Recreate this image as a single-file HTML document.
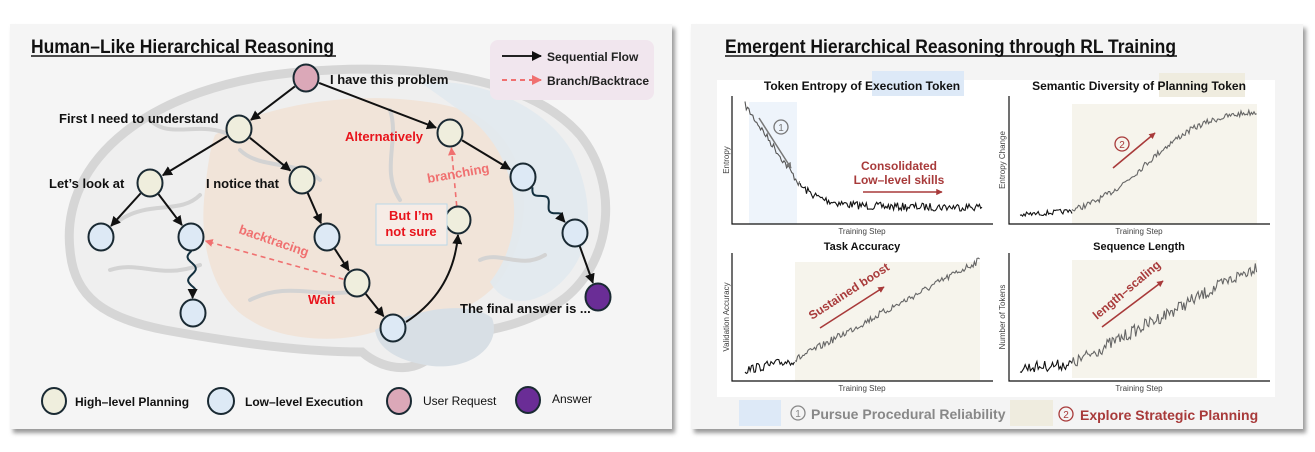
<!DOCTYPE html>
<html><head><meta charset="utf-8">
<style>
html,body{margin:0;padding:0;background:#fff;}
svg{display:block;}
text{font-family:"Liberation Sans Narrow","Liberation Sans",sans-serif;}
.b{font-weight:bold;}
</style></head>
<body>
<svg id="s" width="1315" height="452" viewBox="0 0 1315 452" xmlns="http://www.w3.org/2000/svg">
<defs>
<marker id="ak" viewBox="0 0 10 10" refX="9" refY="5" markerWidth="5" markerHeight="5" orient="auto"><path d="M0,0L10,5L0,10z" fill="#111"/></marker>
<marker id="ar" viewBox="0 0 10 10" refX="9" refY="5" markerWidth="5" markerHeight="5" orient="auto"><path d="M0,0L10,5L0,10z" fill="#f07070"/></marker>
<marker id="ad" viewBox="0 0 10 10" refX="9" refY="5" markerWidth="4" markerHeight="4" orient="auto"><path d="M0,0L10,5L0,10z" fill="#a83a3a"/></marker>
<marker id="ag" viewBox="0 0 10 10" refX="9" refY="5" markerWidth="4" markerHeight="4" orient="auto"><path d="M0,0L10,5L0,10z" fill="#777"/></marker>
<filter id="sh"><feGaussianBlur stdDeviation="2"/></filter>
</defs>
<!-- panels -->
<rect x="13" y="28" width="662" height="405" fill="#999" filter="url(#sh)"/>
<rect x="10" y="24" width="662" height="405" fill="#f5f5f5"/>
<rect x="694" y="28" width="612" height="405" fill="#999" filter="url(#sh)"/>
<rect x="691" y="24" width="612" height="405" fill="#f4f4f4"/>

<!-- brain background -->
<g>
<path d="M70,250 C60,160 150,85 300,72 C420,62 530,78 580,135 C620,185 612,260 565,298 C525,328 485,330 445,338 C425,378 385,372 362,352 C300,352 230,342 165,330 C105,318 74,298 70,250Z" fill="#efefef" stroke="#d6d6d6" stroke-width="9"/>
<path d="M215,135 C280,95 400,88 470,112 C530,142 540,220 500,280 C470,318 420,320 380,330 C340,345 280,340 250,320 C215,300 200,250 204,200 C207,170 210,148 215,135Z" fill="#f1e2d6" opacity="0.9"/>
<path d="M420,82 C480,78 545,105 572,152 C600,212 590,262 552,290 C522,310 500,300 490,282 C530,232 520,152 462,112Z" fill="#e1e9ee" opacity="0.9"/>
<path d="M375,330 C415,308 470,300 492,318 C502,345 472,370 432,366 C400,362 378,350 375,330Z" fill="#d8dfe5"/>
<g fill="none" stroke="#d3d3d3" stroke-width="4" stroke-linecap="round">
<path d="M120,220 C150,200 180,215 200,195"/>
<path d="M110,270 C140,260 160,280 200,265"/>
<path d="M250,300 C290,280 320,300 360,290"/>
<path d="M240,150 C260,170 300,160 320,180"/>
<path d="M390,110 C400,140 380,170 400,200"/>
<path d="M480,260 C500,250 520,270 545,255"/>
<path d="M150,120 C170,140 200,120 230,135"/>
</g>
</g>

<!-- title left -->
<text x="31" y="53" class="b" font-size="19" fill="#111" textLength="303" lengthAdjust="spacingAndGlyphs">Human–Like Hierarchical Reasoning</text>
<line x1="31" y1="56" x2="336" y2="56" stroke="#111" stroke-width="1.5"/>

<!-- legend top-right -->
<rect x="490" y="40" width="164" height="60" rx="8" fill="#f1e6ee"/>
<line x1="502" y1="56" x2="541" y2="56" stroke="#222" stroke-width="2" marker-end="url(#ak)"/>
<text x="547" y="61" class="b" font-size="12" fill="#222">Sequential Flow</text>
<line x1="502" y1="80" x2="541" y2="80" stroke="#f07070" stroke-width="2" stroke-dasharray="5,4" marker-end="url(#ar)"/>
<text x="547" y="85" class="b" font-size="12" fill="#222">Branch/Backtrace</text>

<g id="edges"></g>
<g id="nodes"></g>

<!-- labels -->
<g class="b" font-size="13" fill="#111">
<text x="330" y="84">I have this problem</text>
<text x="59" y="123">First I need to understand</text>
<text x="49" y="188">Let’s look at</text>
<text x="206" y="188">I notice that</text>
<text x="460" y="313">The final answer is ...</text>
</g>
<g class="b" font-size="13" fill="#e8141c">
<text x="345" y="141">Alternatively</text>
<text x="308" y="304">Wait</text>
</g>
<rect x="376" y="204" width="71" height="41" fill="#f6ece6" stroke="#bcd8e8"/>
<text x="411" y="220" text-anchor="middle" class="b" font-size="13" fill="#e8141c">But I’m</text>
<text x="411" y="236" text-anchor="middle" class="b" font-size="13" fill="#e8141c">not sure</text>
<text x="0" y="0" class="b" font-size="13" fill="#f07070" transform="translate(238,233) rotate(19)">backtracing</text>
<text x="0" y="0" class="b" font-size="13" fill="#f07070" transform="translate(428,183) rotate(-10)">branching</text>

<!-- bottom legend -->
<g stroke="#1a2a33" stroke-width="2">
<ellipse cx="54" cy="401" rx="12" ry="13" fill="#efeedd"/>
<ellipse cx="221" cy="401" rx="13" ry="13" fill="#dde9f5"/>
<ellipse cx="399" cy="401" rx="12" ry="13" fill="#dba8b8"/>
<ellipse cx="528" cy="400" rx="12" ry="13" fill="#6a2d96"/>
</g>
<text x="75" y="406" class="b" font-size="12" fill="#111">High–level Planning</text>
<text x="245" y="406" class="b" font-size="12" fill="#111">Low–level Execution</text>
<text x="423" y="405" font-size="12" fill="#111">User Request</text>
<text x="552" y="403" font-size="12" fill="#111">Answer</text>

<!-- right panel -->
<text x="725" y="53" class="b" font-size="19" fill="#111" textLength="451" lengthAdjust="spacingAndGlyphs">Emergent Hierarchical Reasoning through RL Training</text>
<line x1="725" y1="56" x2="1177" y2="56" stroke="#111" stroke-width="1.5"/>
<rect x="717" y="80" width="558" height="317" fill="#fff"/>

<!-- shades -->
<rect x="872" y="71" width="92" height="25" fill="#dde9f7"/>
<rect x="749" y="102" width="48" height="122" fill="#eef4fb"/>
<rect x="1159" y="73" width="86" height="24" fill="#efecdf"/>
<rect x="1072" y="104" width="185" height="120" fill="#f6f4ec"/>
<rect x="795" y="262" width="185" height="119" fill="#f6f4ec"/>
<rect x="1072" y="260" width="185" height="118" fill="#f6f4ec"/>

<g class="b" font-size="12" fill="#111">
<text x="862" y="90" text-anchor="middle">Token Entropy of Execution Token</text>
<text x="1139" y="90" text-anchor="middle">Semantic Diversity of Planning Token</text>
<text x="862" y="250" text-anchor="middle" font-family="DejaVu Sans" font-size="11">Task Accuracy</text>
<text x="1139" y="250" text-anchor="middle" font-family="DejaVu Sans" font-size="11">Sequence Length</text>
</g>
<g font-family="DejaVu Sans" font-size="8" fill="#444">
<text x="862" y="234" text-anchor="middle">Training Step</text>
<text x="1139" y="234" text-anchor="middle">Training Step</text>
<text x="862" y="391" text-anchor="middle">Training Step</text>
<text x="1139" y="391" text-anchor="middle">Training Step</text>
<text transform="translate(729,160) rotate(-90)" text-anchor="middle">Entropy</text>
<text transform="translate(1005,160) rotate(-90)" text-anchor="middle">Entropy Change</text>
<text transform="translate(729,317) rotate(-90)" text-anchor="middle">Validation Accuracy</text>
<text transform="translate(1005,317) rotate(-90)" text-anchor="middle">Number of Tokens</text>
</g>
<g stroke="#111" stroke-width="1.2" fill="none">
<path d="M732,96V224H993"/>
<path d="M1009,96V224H1270"/>
<path d="M732,253V381H993"/>
<path d="M1009,253V381H1270"/>
</g>
<g id="curves" fill="none" stroke-width="1.1"></g>

<!-- annotations -->
<line x1="759" y1="118" x2="791" y2="168" stroke="#777" stroke-width="1.5" marker-end="url(#ag)"/>
<circle cx="781" cy="127" r="7" fill="none" stroke="#777" stroke-width="1.3"/>
<text x="781" y="131" text-anchor="middle" font-size="10" fill="#777">1</text>
<text x="899" y="170" text-anchor="middle" class="b" font-size="12" fill="#a83a3a">Consolidated</text>
<text x="899" y="184" text-anchor="middle" class="b" font-size="12" fill="#a83a3a">Low–level skills</text>
<line x1="863" y1="192" x2="942" y2="192" stroke="#a83a3a" stroke-width="1.6" marker-end="url(#ad)"/>
<line x1="1113" y1="168" x2="1155" y2="133" stroke="#a83a3a" stroke-width="1.6" marker-end="url(#ad)"/>
<circle cx="1122" cy="144" r="7" fill="none" stroke="#a83a3a" stroke-width="1.3"/>
<text x="1122" y="148" text-anchor="middle" font-size="10" fill="#a83a3a">2</text>
<line x1="820" y1="328" x2="884" y2="287" stroke="#a83a3a" stroke-width="1.6" marker-end="url(#ad)"/>
<text transform="translate(812,320) rotate(-33)" class="b" font-size="12" fill="#a83a3a" font-family="Liberation Serif">Sustained boost</text>
<line x1="1102" y1="327" x2="1163" y2="281" stroke="#a83a3a" stroke-width="1.6" marker-end="url(#ad)"/>
<text transform="translate(1097,320) rotate(-40)" class="b" font-size="12" fill="#a83a3a" font-family="Liberation Serif">length–scaling</text>

<!-- bottom legend right -->
<rect x="739" y="400" width="42" height="26" fill="#dde9f7"/>
<circle cx="798" cy="413" r="7" fill="none" stroke="#888" stroke-width="1.3"/>
<text x="798" y="417" text-anchor="middle" font-size="10" fill="#888">1</text>
<text x="811" y="419" class="b" font-size="14" fill="#888">Pursue Procedural Reliability</text>
<rect x="1010" y="400" width="43" height="26" fill="#efecdf"/>
<circle cx="1066" cy="414" r="7" fill="none" stroke="#a83a3a" stroke-width="1.3"/>
<text x="1066" y="418" text-anchor="middle" font-size="10" fill="#a83a3a">2</text>
<text x="1080" y="420" class="b" font-size="14" fill="#a83a3a">Explore Strategic Planning</text>
</svg>
<script>
var NS="http://www.w3.org/2000/svg";
function el(t,a,p){var e=document.createElementNS(NS,t);for(var k in a)e.setAttribute(k,a[k]);document.getElementById(p).appendChild(e);return e;}
var N={u:[306,78,'#dba8b8'],f:[239,129,'#efeedd'],al:[450,133,'#efeedd'],l:[150,183,'#efeedd'],n:[302,180,'#efeedd'],
re:[523,177,'#dde9f5'],e1:[101,237,'#dde9f5'],e2:[191,237,'#dde9f5'],e3:[327,237,'#dde9f5'],bn:[458,220,'#efeedd'],
e4:[575,233,'#dde9f5'],e5:[193,313,'#dde9f5'],w:[357,283,'#efeedd'],e6:[393,328,'#dde9f5'],ans:[598,297,'#6a2d96']};
function sh(a,b,r){var dx=b[0]-a[0],dy=b[1]-a[1],d=Math.hypot(dx,dy);return [a[0]+dx/d*r,a[1]+dy/d*r,b[0]-dx/d*(r+1),b[1]-dy/d*(r+1)];}
[['u','f'],['u','al'],['f','l'],['f','n'],['l','e1'],['l','e2'],['n','e3'],['e3','w'],['w','e6'],['al','re'],['e4','ans']].forEach(function(p){
 var c=sh(N[p[0]],N[p[1]],14);el('line',{x1:c[0],y1:c[1],x2:c[2],y2:c[3],stroke:'#111','stroke-width':2,'marker-end':'url(#ak)'},'edges');});
el('path',{d:'M406,322 C440,300 455,270 458,235',fill:'none',stroke:'#111','stroke-width':2,'marker-end':'url(#ak)'},'edges');
function wavy(a,b){var c=sh(a,b,14),dx=c[2]-c[0],dy=c[3]-c[1],d=Math.hypot(dx,dy),nx=-dy/d,ny=dx/d,s='M'+c[0]+','+c[1];
 for(var i=1;i<=40;i++){var t=i/40,o=Math.sin(t*Math.PI*4)*4*(t<0.85?1:0);s+=' L'+(c[0]+dx*t+nx*o).toFixed(1)+','+(c[1]+dy*t+ny*o).toFixed(1);}
 el('path',{d:s,fill:'none',stroke:'#13303f','stroke-width':2,'marker-end':'url(#ak)'},'edges');}
wavy(N.e2,N.e5);wavy(N.re,N.e4);
var c=sh(N.w,N.e2,14);el('line',{x1:c[0],y1:c[1],x2:c[2],y2:c[3],stroke:'#f07070','stroke-width':1.6,'stroke-dasharray':'5,4','marker-end':'url(#ar)'},'edges');
c=sh(N.bn,N.al,14);el('line',{x1:c[0],y1:c[1],x2:c[2],y2:c[3],stroke:'#f07070','stroke-width':1.6,'stroke-dasharray':'5,4','marker-end':'url(#ar)'},'edges');
for(var k in N){el('ellipse',{cx:N[k][0],cy:N[k][1],rx:12.5,ry:13.5,fill:N[k][2],stroke:'#1a2a33','stroke-width':2},'nodes');}
var seed=7;function rnd(){seed=(seed*16807)%2147483647;return seed/2147483647-0.5;}
function curve(x0,x1,f,amp,col){var s='';for(var x=x0;x<=x1;x+=1.3){var y=f((x-x0)/(x1-x0))+rnd()*amp;s+=(s?' L':'M')+x.toFixed(1)+','+y.toFixed(1);}
 el('path',{d:s,stroke:col},'curves');}
curve(745,800,function(t){return 105+t*80;},7,'#555');
curve(800,982,function(t){return 185+22*(1-Math.exp(-t*8));},8,'#111');
curve(1020,1072,function(t){return 215-t*4;},5,'#111');
curve(1072,1257,function(t){return 211-110/(1+Math.exp(-(t-0.4)*6))+8;},6,'#666');
curve(745,795,function(t){return 370-t*10;},9,'#111');
curve(795,980,function(t){return 360-t*100;},7,'#666');
curve(1020,1072,function(t){return 368-t*4;},11,'#111');
curve(1072,1257,function(t){return 364-t*98;},13,'#666');
</script>
</body></html>
